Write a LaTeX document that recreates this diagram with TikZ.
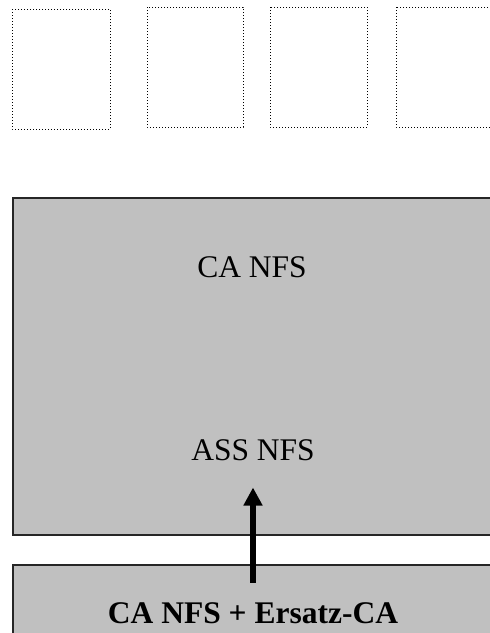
\documentclass[tikz,border=0pt]{standalone}
\usepackage{fontspec}
\setmainfont{Liberation Serif}
\usetikzlibrary{arrows.meta, positioning}

\definecolor{layergray}{HTML}{C0C0C0}

\begin{document}
\begin{tikzpicture}[x=1pt, y=-1pt,
	slot/.style={draw, dotted, line width=1pt},
	layer/.style={draw=black!85, fill=layergray, line width=1.8pt},
	txt/.style={anchor=base, inner sep=0pt, font=\fontsize{31.5}{36}\selectfont}]
	\useasboundingbox (0,0) rectangle (490,633);
	\clip (0,0) rectangle (490,633);
	% empty slots on top
	\foreach \l/\t/\r/\b in {12/9/110/129, 147/7/243/127, 270/7/367/127, 396/7/520/127}
		\draw[slot] (\l,\t) rectangle (\r,\b);
	% the two layers
	\draw[layer] (13,198) rectangle (520,535);
	\draw[layer] (13,565) rectangle (520,660);
	\node[txt] (ca) at (252,277) {CA NFS};
	\node[txt] (ass) at (253,460) {ASS NFS};
	\node[txt, font=\fontsize{31.5}{36}\selectfont\bfseries] (ersatz) at (253,623) {CA NFS + Ersatz-CA};
	\draw[-{Triangle[width=18pt,length=18pt]}, line width=6pt, shorten <=19pt, shorten >=27pt] (ersatz.north) -- (ass.south);
\end{tikzpicture}
\end{document}
